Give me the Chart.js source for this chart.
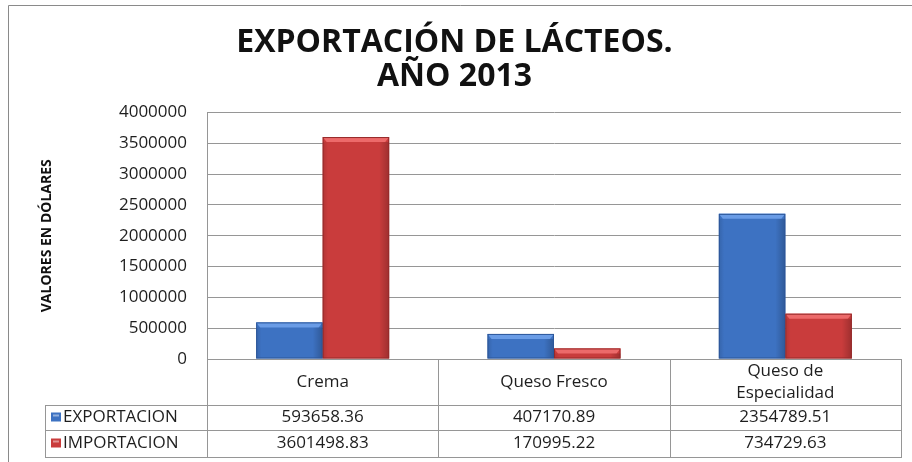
<!DOCTYPE html>
<html>
<head>
<meta charset="utf-8">
<style>
  html, body { margin: 0; padding: 0; background: #fff; }
  canvas { display: block; }
</style>
</head>
<body>
<canvas id="grafico" width="912" height="462"></canvas>
<script src="https://cdn.jsdelivr.net/npm/chart.js"></script>
<script>
  // Datos de la tabla
  const productos = ['Crema', 'Queso Fresco', ['Queso de', 'Especialidad']];
  const exportacion = [593658.36, 407170.89, 2354789.51];
  const importacion = [3601498.83, 170995.22, 734729.63];
  const textoExportacion = ['593658.36', '407170.89', '2354789.51'];
  const textoImportacion = ['3601498.83', '170995.22', '734729.63'];
  const ticksY = [0, 500000, 1000000, 1500000, 2000000, 2500000, 3000000, 3500000, 4000000];

  const AZUL = '#3d72c2';
  const ROJO = '#c93c3c';
  const GRIS = '#969696';
  const FUENTE = "'Open Sans', sans-serif";

  // Marco exterior y fondo blanco
  const marco = {
    id: 'marco',
    beforeDraw(chart) {
      const ctx = chart.ctx;
      ctx.save();
      ctx.fillStyle = '#fff';
      ctx.fillRect(0, 0, chart.width, chart.height);
      ctx.strokeStyle = '#8a8a8a';
      ctx.lineWidth = 1;
      ctx.beginPath();
      ctx.moveTo(8.5, chart.height);
      ctx.lineTo(8.5, 5.5);
      ctx.lineTo(chart.width, 5.5);
      ctx.stroke();
      ctx.restore();
    }
  };

  // Brillo en el borde superior de cada barra
  const relieve = {
    id: 'relieve',
    afterDatasetsDraw(chart) {
      const ctx = chart.ctx;
      ctx.save();
      chart.data.datasets.forEach((ds, i) => {
        chart.getDatasetMeta(i).data.forEach(bar => {
          const w = bar.width, x0 = bar.x - w / 2, y0 = bar.y;
          const claro = i === 0 ? '#6a9ce6' : '#ec6a6a';
          const oscuro = i === 0 ? '#2c5699' : '#952a2a';
          ctx.fillStyle = claro;
          ctx.beginPath();
          ctx.moveTo(x0, y0);
          ctx.lineTo(x0 + w, y0);
          ctx.lineTo(x0 + w - 4, y0 + 5);
          ctx.lineTo(x0 + 4, y0 + 5);
          ctx.closePath();
          ctx.fill();
          const g = ctx.createLinearGradient(x0, 0, x0 + w, 0);
          g.addColorStop(0, 'rgba(0,0,0,0.12)');
          g.addColorStop(0.08, 'rgba(0,0,0,0)');
          g.addColorStop(0.85, 'rgba(0,0,0,0)');
          g.addColorStop(1, 'rgba(0,0,0,0.22)');
          ctx.fillStyle = g;
          ctx.fillRect(x0, y0 + 5, w, bar.base - y0 - 5);
          ctx.strokeStyle = oscuro;
          ctx.lineWidth = 1;
          ctx.strokeRect(x0 + 0.5, y0 + 0.5, w - 1, bar.base - y0 - 1);
        });
      });
      ctx.restore();
    }
  };

  // Tabla de datos bajo el eje de categorías
  const tabla = {
    id: 'tabla',
    afterDraw(chart) {
      const ctx = chart.ctx;
      const area = chart.chartArea;
      const x = chart.scales.x;
      const paso = (area.right - area.left) / productos.length;
      const izq = 45;
      const filas = [area.bottom, area.bottom + 46, area.bottom + 71, area.bottom + 98];

      ctx.save();
      ctx.strokeStyle = GRIS;
      ctx.lineWidth = 1;
      ctx.beginPath();
      // líneas horizontales
      ctx.moveTo(area.left, filas[0] + 0.5);
      ctx.lineTo(area.right, filas[0] + 0.5);
      for (let r = 1; r < filas.length; r++) {
        ctx.moveTo(izq, filas[r] + 0.5);
        ctx.lineTo(area.right, filas[r] + 0.5);
      }
      // líneas verticales
      for (let c = 0; c <= productos.length; c++) {
        const xc = Math.round(area.left + c * paso) + 0.5;
        ctx.moveTo(xc, filas[0]);
        ctx.lineTo(xc, filas[3] + 1);
      }
      ctx.moveTo(izq + 0.5, filas[1]);
      ctx.lineTo(izq + 0.5, filas[3] + 1);
      ctx.stroke();

      ctx.fillStyle = '#1e1e1e';
      ctx.font = '17px ' + FUENTE;
      ctx.textAlign = 'center';
      ctx.textBaseline = 'middle';
      productos.forEach((p, i) => {
        const cx = x.getPixelForValue(i);
        const mid = (filas[0] + filas[1]) / 2;
        if (Array.isArray(p)) {
          ctx.fillText(p[0], cx, mid - 11);
          ctx.fillText(p[1], cx, mid + 11);
        } else {
          ctx.fillText(p, cx, mid);
        }
        ctx.fillText(textoExportacion[i], cx, (filas[1] + filas[2]) / 2);
        ctx.fillText(textoImportacion[i], cx, (filas[2] + filas[3]) / 2);
      });

      // leyenda de la tabla
      chart.data.datasets.forEach((ds, i) => {
        const yc = (filas[i + 1] + filas[i + 2]) / 2;
        ctx.fillStyle = ds.backgroundColor;
        ctx.fillRect(51, yc - 5, 10, 9);
        ctx.fillStyle = 'rgba(255,255,255,0.45)';
        ctx.fillRect(53, yc - 3, 6, 2);
        ctx.fillStyle = '#1e1e1e';
        ctx.textAlign = 'left';
        ctx.fillText(ds.label, 63, yc);
      });
      ctx.restore();
    }
  };

  new Chart(document.getElementById('grafico'), {
    type: 'bar',
    data: {
      labels: productos,
      datasets: [{
        label: 'EXPORTACION',
        data: exportacion,
        backgroundColor: AZUL
      }, {
        label: 'IMPORTACION',
        data: importacion,
        backgroundColor: ROJO
      }]
    },
    options: {
      responsive: false,
      devicePixelRatio: 1,
      animation: false,
      categoryPercentage: 0.575,
      barPercentage: 1,
      layout: { padding: { left: 8, right: 11, top: 0, bottom: 103 } },
      plugins: {
        legend: { display: false },
        tooltip: { enabled: false },
        title: {
          display: true,
          text: ['EXPORTACIÓN DE LÁCTEOS.', 'AÑO 2013'],
          color: '#111',
          font: { family: FUENTE, size: 32, weight: 'bold', lineHeight: 1.07 },
          padding: { top: 26, bottom: 18 }
        }
      },
      scales: {
        x: { display: false },
        y: {
          min: 0,
          max: 4000000,
          afterBuildTicks: s => { s.ticks = ticksY.map(v => ({ value: v })); },
          afterFit: s => { s.width = 199; },
          grid: { color: GRIS, drawTicks: false },
          border: { display: true, color: GRIS },
          ticks: {
            padding: 20,
            color: '#1e1e1e',
            font: { family: FUENTE, size: 17 },
            callback: v => String(v)
          },
          title: {
            display: true,
            text: 'VALORES EN DÓLARES',
            color: '#111',
            font: { family: FUENTE, size: 14, weight: 'bold' },
            padding: { top: 31 }
          }
        }
      }
    },
    plugins: [marco, relieve, tabla]
  });
</script>
</body>
</html>
